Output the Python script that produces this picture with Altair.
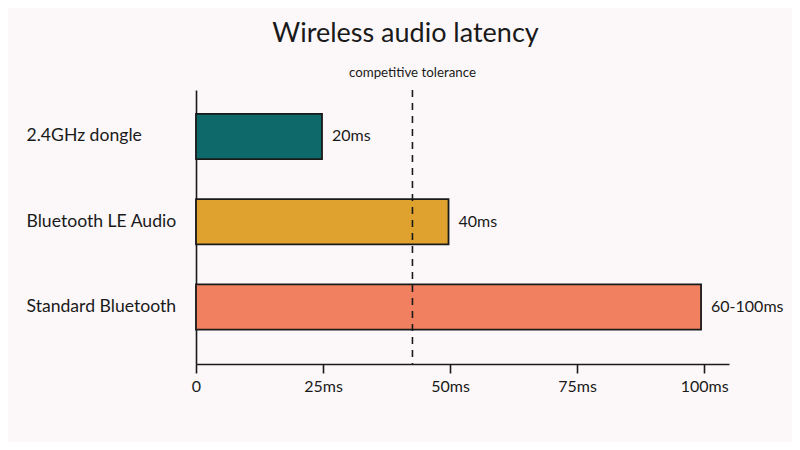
import altair as alt
import pandas as pd

categories = ["2.4GHz dongle", "Bluetooth LE Audio", "Standard Bluetooth"]
bar_lengths = [24.8, 49.7, 99.4]
value_labels = ["20ms", "40ms", "60-100ms"]
bar_colors = ["#0e6a6a", "#e0a22f", "#f08060"]
tick_values = [0, 25, 50, 75, 100]
tick_labels = ["0", "25ms", "50ms", "75ms", "100ms"]
threshold = [42.6]
threshold_label = ["competitive tolerance"]

FONT = "Lato"
INK = "#1a1a1a"
BG = "#fcf8f9"

df = pd.DataFrame({"cat": categories, "v": bar_lengths, "lab": value_labels, "col": bar_colors})
thr = pd.DataFrame({"x": threshold, "lab": threshold_label})

label_expr = "{" + ",".join(f"'{v}':'{l}'" for v, l in zip(tick_values, tick_labels)) + "}[datum.value]"

xscale = alt.Scale(domain=[0, 104.9], nice=False, zero=True)
yscale = alt.Scale(domain=categories, paddingInner=0.47, paddingOuter=0.341, align=0.41)

x_axis = alt.Axis(
    values=tick_values, labelExpr=label_expr, title=None, grid=False,
    domainColor=INK, domainWidth=1.6, tickColor=INK, tickWidth=1.6, tickSize=9,
    labelFont=FONT, labelFontSize=16, labelColor=INK, labelPadding=5,
    labelFlush=False, labelOverlap=False,
)
y_axis = alt.Axis(
    title=None, ticks=False, domainColor=INK, domainWidth=1.6,
    labelFont=FONT, labelFontSize=17.6, labelColor=INK, labelAlign="left",
    labelPadding=170, labelLimit=200,
)

bars = alt.Chart(df).mark_bar(stroke=INK, strokeWidth=1.8).encode(
    x=alt.X("v:Q", scale=xscale, axis=x_axis),
    y=alt.Y("cat:N", scale=yscale, axis=y_axis, sort=categories),
    color=alt.Color("col:N", scale=None),
)

texts = alt.Chart(df).mark_text(align="left", baseline="middle", dx=10, dy=0, font=FONT, fontSize=16, color=INK).encode(
    x=alt.X("v:Q", scale=xscale),
    y=alt.Y("cat:N", scale=yscale, sort=categories),
    text="lab:N",
)

rule = alt.Chart(thr).mark_rule(color=INK, strokeWidth=1.6, strokeDash=[7, 6]).encode(
    x=alt.X("x:Q", scale=xscale),
)

rule_text = alt.Chart(thr).mark_text(baseline="middle", font=FONT, fontSize=13.3, color=INK).encode(
    x=alt.X("x:Q", scale=xscale),
    y=alt.value(-17),
    text="lab:N",
)

chart = alt.layer(bars, texts, rule, rule_text).properties(
    width=533, height=274,
    autosize=alt.AutoSizeParams(type="none"),
    padding={"left": 188, "top": 82, "right": 63, "bottom": 78},
    background=BG,
    title=alt.TitleParams(
        "Wireless audio latency", font=FONT, fontSize=27, fontWeight="normal",
        color=INK, anchor="middle", dx=-57, offset=18,
    ),
).configure_view(stroke=None)

chart.save("out.html", embed_options={"renderer": "svg", "actions": False})
